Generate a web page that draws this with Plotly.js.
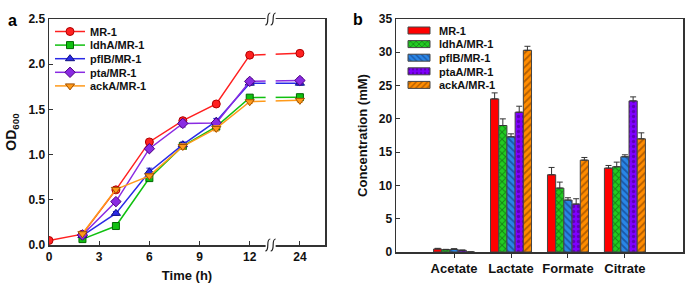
<!DOCTYPE html>
<html>
<head>
<meta charset="utf-8">
<script src="https://cdn.plot.ly/plotly-3.0.1.min.js"></script>
<style>html,body{margin:0;padding:0;background:#fff;}#chart{width:685px;height:292px;}</style>
</head>
<body>
<div id="chart"></div>
<script>
// ---- Panel a: growth curves ----
const timeH = [0, 2, 4, 6, 8, 10, 12, 24];
const odMR1  = [0.05, 0.12, 0.61, 1.14, 1.375, 1.56, 2.10, 2.12];
const odLdhA = [null, 0.065, 0.21, 0.74, 1.095, 1.31, 1.63, 1.635];
const odPflB = [null, 0.105, 0.35, 0.81, 1.11, 1.37, 1.79, 1.79];
const odPta  = [null, 0.11, 0.48, 1.065, 1.345, 1.35, 1.81, 1.82];
const odAckA = [null, 0.125, 0.615, 0.765, 1.09, 1.29, 1.585, 1.60];
const errMR1  = [0.01, 0.01, 0.02, 0.02, 0.02, 0.02, 0.02, 0.02];
const errLdhA = [0, 0.01, 0.02, 0.02, 0.02, 0.02, 0.02, 0.02];
const errPflB = [0, 0.01, 0.02, 0.04, 0.03, 0.03, 0.02, 0.02];
const errPta  = [0, 0.01, 0.02, 0.02, 0.04, 0.03, 0.03, 0.03];
const errAckA = [0, 0.01, 0.02, 0.02, 0.03, 0.03, 0.02, 0.02];
const timeTickVals = [0, 3, 6, 9, 12, 24];
const timeTickText = ['0', '3', '6', '9', '12', '24'];

// ---- Panel b: metabolite concentrations ----
const metabolites = ['Acetate', 'Lactate', 'Formate', 'Citrate'];
const concMR1  = [0.45, 23.0, 11.6, 12.6];
const concLdhA = [0.35, 19.0, 9.6, 12.8];
const concPflB = [0.4, 17.3, 7.8, 14.3];
const concPtaA = [0.25, 21.0, 7.2, 22.7];
const concAckA = [0, 30.3, 13.8, 17.0];
const sdMR1  = [0.1, 0.9, 1.1, 0.4];
const sdLdhA = [0.05, 1.0, 0.9, 0.7];
const sdPflB = [0.1, 0.45, 0.35, 0.3];
const sdPtaA = [0.05, 0.9, 0.8, 0.6];
const sdAckA = [0, 0.6, 0.4, 0.9];

// broken time axis: 12 -> 24 h compressed
function tpos(t) { return t <= 12 ? t : 12 + (t - 12) / 4; }
const xPos = timeH.map(tpos);

const FONT = 'Arial, "Liberation Sans", sans-serif';
const AXC = '#333333';

function lineTrace(name, y, err, color, edge, symbol, size) {
  return {
    type: 'scatter', mode: 'lines+markers', name: name,
    x: xPos, y: y, xaxis: 'x', yaxis: 'y', legend: 'legend',
    line: {color: color, width: 1.5},
    marker: {symbol: symbol, size: size, color: color, line: {color: edge, width: 1}},
    error_y: {type: 'data', array: err, visible: true, color: color, thickness: 1, width: 3},
    connectgaps: false
  };
}

function barTrace(name, y, err, color, shape, fg) {
  const m = {color: color, line: {color: '#444444', width: 1}};
  if (shape) m.pattern = {shape: shape, fillmode: 'overlay', fgcolor: fg, size: 5, solidity: 0.35};
  return {
    type: 'bar', name: name, x: metabolites, y: y, xaxis: 'x2', yaxis: 'y2', legend: 'legend2',
    marker: m,
    error_y: {type: 'data', symmetric: false, array: err, arrayminus: err.map(() => 0), color: '#333333', thickness: 1, width: 3}
  };
}

const traces = [
  lineTrace('MR-1', odMR1, errMR1, '#ff2020', '#b00000', 'circle', 8),
  lineTrace('ldhA/MR-1', odLdhA, errLdhA, '#10c010', '#006600', 'square', 7),
  lineTrace('pflB/MR-1', odPflB, errPflB, '#2a2ae6', '#101080', 'triangle-up', 8),
  lineTrace('pta/MR-1', odPta, errPta, '#8a2be2', '#4b0080', 'diamond', 8),
  lineTrace('ackA/MR-1', odAckA, errAckA, '#ff9a1a', '#a05000', 'triangle-down', 8),
  barTrace('MR-1', concMR1, sdMR1, '#ff0000', null, null),
  barTrace('ldhA/MR-1', concLdhA, sdLdhA, '#22cc22', 'x', '#0a3a0a'),
  barTrace('pflB/MR-1', concPflB, sdPflB, '#2a86e6', '\\', '#0a2a6a'),
  barTrace('ptaA/MR-1', concPtaA, sdPtaA, '#8000ff', '.', '#3a0070'),
  barTrace('ackA/MR-1', concAckA, sdAckA, '#ff8c00', '/', '#6a3000')
];

// squiggle break marks
const pxX = 16.5 / 276, pxY = 1 / 292;
function squiggle(xc, yc) {
  const a = 2.5 * pxX, h = 6 * pxY;
  return 'M' + (xc + a) + ',' + (yc + h) + ' Q' + xc + ',' + (yc + h) + ' ' + xc + ',' + yc +
         ' Q' + xc + ',' + (yc - h) + ' ' + (xc - a) + ',' + (yc - h);
}
const yBot = 47 / 292, yTop = 273 / 292;
const shapes = [
  {type: 'rect', xref: 'x', yref: 'paper', x0: 12.95, x1: 13.55, y0: yBot - 0.03, y1: yTop + 0.03,
   fillcolor: '#ffffff', line: {width: 0}, layer: 'above'}
];
[13.08, 13.40].forEach(xc => {
  [yBot, yTop].forEach(yc => {
    shapes.push({type: 'path', xref: 'x', yref: 'paper', path: squiggle(xc, yc),
      line: {color: '#222222', width: 1.2}, layer: 'above'});
  });
});

const tickF = {family: FONT, size: 12, color: '#111', weight: 'bold'};
const titleF = {family: FONT, size: 13, color: '#111', weight: 'bold'};

const layout = {
  width: 685, height: 292,
  margin: {l: 0, r: 0, t: 0, b: 0},
  paper_bgcolor: '#fff', plot_bgcolor: '#fff',
  font: {family: FONT},
  barmode: 'group', bargap: 0.28, bargroupgap: 0,
  xaxis: {domain: [49 / 685, 325 / 685], range: [0, 16.5], anchor: 'y',
    tickvals: timeTickVals.map(tpos), ticktext: timeTickText,
    ticks: 'inside', ticklen: 4, tickcolor: AXC, showgrid: false, zeroline: false,
    showline: true, linecolor: AXC, linewidth: 1.5, mirror: true, tickfont: tickF,
    title: {text: 'Time (h)', font: titleF, standoff: 8}},
  yaxis: {domain: [47 / 292, 273 / 292], range: [0, 2.5], anchor: 'x',
    tickvals: [0, 0.5, 1, 1.5, 2, 2.5], tickformat: '.1f',
    ticks: 'inside', ticklen: 4, tickcolor: AXC, showgrid: false, zeroline: false,
    showline: true, linecolor: AXC, linewidth: 1.5, mirror: true, tickfont: tickF,
    title: {text: 'OD<sub>600</sub>', font: {family: FONT, size: 14, color: '#111', weight: 'bold'}, standoff: 8}},
  xaxis2: {domain: [396 / 685, 683 / 685], range: [-1.02, 4.02], anchor: 'y2', type: 'category',
    ticks: 'outside', ticklen: 4, tickcolor: AXC, showgrid: false, zeroline: false,
    showline: true, linecolor: AXC, linewidth: 1.5, mirror: true,
    tickfont: {family: FONT, size: 13, color: '#111', weight: 'bold'}},
  yaxis2: {domain: [40 / 292, 273 / 292], range: [0, 35], anchor: 'x2', dtick: 5,
    ticks: 'inside', ticklen: 4, tickcolor: AXC, showgrid: false, zeroline: false,
    showline: true, linecolor: AXC, linewidth: 1.5, mirror: true, tickfont: tickF,
    title: {text: 'Concentration (mM)', font: titleF, standoff: 8}},
  legend: {x: 50 / 685, y: 1 - 17 / 292, xanchor: 'left', yanchor: 'top', bgcolor: 'rgba(0,0,0,0)',
    font: {family: FONT, size: 11, color: '#111', weight: 'bold'}, tracegroupgap: 0},
  legend2: {x: 399 / 685, y: 1 - 16 / 292, xanchor: 'left', yanchor: 'top', bgcolor: 'rgba(0,0,0,0)',
    font: {family: FONT, size: 11, color: '#111', weight: 'bold'}, tracegroupgap: 0},
  shapes: shapes,
  annotations: [
    {text: '<b>a</b>', xref: 'paper', yref: 'paper', x: 6 / 685, y: 1 - 10 / 292, showarrow: false,
     font: {family: FONT, size: 16, color: '#000'}},
    {text: '<b>b</b>', xref: 'paper', yref: 'paper', x: 358 / 685, y: 1 - 9 / 292, showarrow: false,
     font: {family: FONT, size: 16, color: '#000'}}
  ]
};

// tighten legend row spacing and widen bar swatches to match the reference
function tuneLegends(gd) {
  ['legend', 'legend2'].forEach(cls => {
    const lg = gd.querySelector('g.' + cls);
    if (!lg) return;
    const items = Array.from(lg.querySelectorAll('g.traces'));
    if (!items.length) return;
    const parse = el => {
      const m = /translate\(\s*([-\d.e]+)[ ,]+([-\d.e]+)\s*\)/.exec(el.getAttribute('transform') || '');
      return m ? [parseFloat(m[1]), parseFloat(m[2])] : [0, 0];
    };
    if (!lg.dataset.tuned) {
      const y0 = parse(items[0])[1];
      items.forEach(it => {
        const p = parse(it);
        it.setAttribute('transform', 'translate(' + p[0] + ',' + (y0 + (p[1] - y0) * 13.6 / 19) + ')');
      });
      lg.dataset.tuned = '1';
    }
    if (cls === 'legend2') {
      items.forEach(it => {
        it.querySelectorAll('path').forEach(p => {
          if (p.dataset.wide) return;
          let b;
          try { b = p.getBBox(); } catch (e) { return; }
          if (b.width > 6 && b.width < 20 && b.height > 6 && b.height < 20) {
            const cx = b.x + b.width / 2, cy = b.y + b.height / 2;
            p.setAttribute('d', 'M' + (cx + 11) + ',' + (cy + 3.5) + 'H' + (cx - 11) +
              'V' + (cy - 3.5) + 'H' + (cx + 11) + 'Z');
            p.dataset.wide = '1';
          }
        });
      });
    }
  });
}

Plotly.newPlot('chart', traces, layout, {staticPlot: true, displayModeBar: false})
  .then(gd => { tuneLegends(gd); setTimeout(() => tuneLegends(gd), 30); });
</script>
</body>
</html>
